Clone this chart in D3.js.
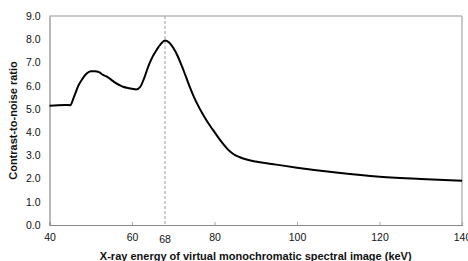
<!DOCTYPE html>
<html><head><meta charset="utf-8">
<script src="https://cdn.jsdelivr.net/npm/d3@7"></script>
<style>body{margin:0;background:#fff}svg{display:block}text{font-family:"Liberation Sans",Arial,sans-serif}</style>
</head><body>
<svg id="c" width="468" height="261"></svg>
<script>
const energies = [40,42,44,45,46,47,48,49,50,51,52,53,54,55,56,57,58,59,60,61,62,63,64,65,66,67,68,69,70,71,72,73,74,75,76,77,78,79,80,81,82,83,84,85,86,88,90,95,100,110,120,130,140];
const cnr      = [5.13,5.16,5.17,5.16,5.55,6.0,6.3,6.52,6.62,6.62,6.58,6.46,6.38,6.25,6.12,6.02,5.94,5.9,5.87,5.84,5.95,6.35,6.85,7.25,7.55,7.8,7.95,7.86,7.63,7.3,6.88,6.42,5.95,5.52,5.15,4.82,4.52,4.25,4.0,3.75,3.51,3.3,3.13,3.01,2.93,2.81,2.73,2.6,2.47,2.25,2.08,1.98,1.91];
const xTicks = [40,60,80,100,120,140];
const markerEnergy = 68;
const yTicks = [0,1,2,3,4,5,6,7,8,9];
const xTitle = "X-ray energy of virtual monochromatic spectral image (keV)";
const yTitle = "Contrast-to-noise ratio";

const svg = d3.select("#c");
const L = 49.5, R = 462, T = 16, B = 225;
const x = d3.scaleLinear().domain([40,140]).range([L,R]);
const y = d3.scaleLinear().domain([0,9]).range([B,T]);

svg.append("line").attr("x1",L).attr("x2",R).attr("y1",T).attr("y2",T).attr("stroke","#b8b8b8").attr("stroke-width",1.5);
svg.append("line").attr("x1",R).attr("x2",R).attr("y1",T).attr("y2",B).attr("stroke","#b8b8b8").attr("stroke-width",1.5);

svg.append("line").attr("x1",x(markerEnergy)).attr("x2",x(markerEnergy)).attr("y1",T).attr("y2",B)
  .attr("stroke","#999").attr("stroke-width",1).attr("stroke-dasharray","3,2");

const xa = svg.append("g").attr("transform",`translate(0,${B})`)
  .call(d3.axisBottom(x).tickValues(xTicks).tickSize(-3).tickPadding(9).tickFormat(d3.format("d")));
xa.select(".domain").attr("stroke","#888").attr("stroke-width",1.2);
xa.selectAll(".tick line").attr("stroke","#aaa");
xa.selectAll("text").attr("font-size",10.5).attr("fill","#111");
svg.append("text").attr("x",x(markerEnergy)).attr("y",243).attr("text-anchor","middle")
  .attr("font-size",10.5).attr("fill","#111").text(markerEnergy);

const ya = svg.append("g").attr("transform",`translate(${L},0)`)
  .call(d3.axisLeft(y).tickValues(yTicks).tickSize(0).tickPadding(9).tickFormat(d3.format(".1f")));
ya.select(".domain").attr("stroke","#888").attr("stroke-width",1.2);
ya.selectAll("text").attr("font-size",10.5).attr("fill","#111");

svg.append("text").attr("x",(L+R)/2).attr("y",259.5).attr("text-anchor","middle")
  .attr("font-size",11).attr("font-weight","bold").attr("fill","#111").text(xTitle);
svg.append("text").attr("transform",`translate(16.5,${(T+B)/2}) rotate(-90)`).attr("text-anchor","middle")
  .attr("font-size",11).attr("font-weight","bold").attr("fill","#111").text(yTitle);

const data = energies.map((e,i)=>[e,cnr[i]]);
svg.append("path").datum(data).attr("fill","none").attr("stroke","#000").attr("stroke-width",2)
  .attr("stroke-linejoin","round")
  .attr("d", d3.line().x(d=>x(d[0])).y(d=>y(d[1])).curve(d3.curveMonotoneX));
</script>
</body></html>
